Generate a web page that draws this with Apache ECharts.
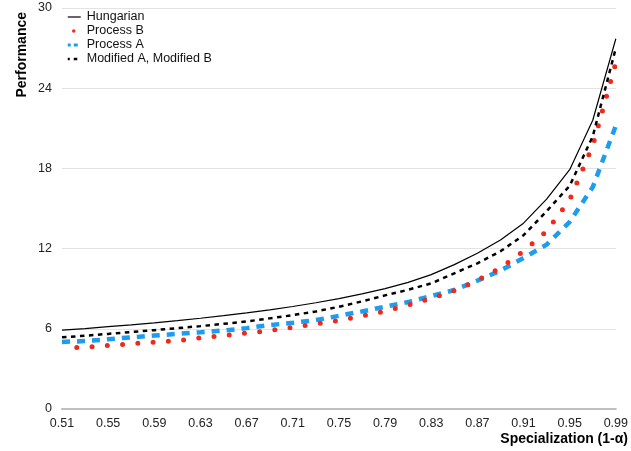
<!DOCTYPE html>
<html>
<head>
<meta charset="utf-8">
<script src="https://cdn.jsdelivr.net/npm/echarts@6/dist/echarts.min.js"></script>
<style>
  html, body { margin: 0; padding: 0; background: #fff; }
  #chart { width: 631px; height: 451px; }
</style>
</head>
<body>
<div id="chart"></div>
<script>
// x categories: specialization (1-α), step 0.02
const specialization = ['0.51', '0.53', '0.55', '0.57', '0.59', '0.61', '0.63', '0.65', '0.67', '0.69',
  '0.71', '0.73', '0.75', '0.77', '0.79', '0.81', '0.83', '0.85', '0.87', '0.89',
  '0.91', '0.93', '0.95', '0.97', '0.99']

const hungarian = [5.90, 6.02, 6.16, 6.30, 6.45, 6.61, 6.79, 6.98, 7.19, 7.42,
  7.67, 7.95, 8.26, 8.61, 9.01, 9.47, 10.05, 10.8, 11.65, 12.65,
  13.9, 15.7, 17.9, 21.6, 27.7]

const processB = [4.55, 4.63, 4.75, 4.88, 5.00, 5.10, 5.32, 5.49, 5.68, 5.87,
  6.10, 6.37, 6.63, 6.95, 7.32, 7.77, 8.28, 8.85, 9.62, 10.55,
  11.8, 13.3, 15.65, 19.7, 25.9]

const processA = [5.02, 5.08, 5.22, 5.36, 5.49, 5.62, 5.74, 5.87, 6.05, 6.28,
  6.45, 6.65, 6.97, 7.30, 7.65, 8.00, 8.45, 8.90, 9.60, 10.35,
  11.3, 12.3, 14.0, 16.6, 21.2]

const modifiedAB = [5.36, 5.48, 5.62, 5.76, 5.90, 6.05, 6.20, 6.37, 6.55, 6.78,
  7.02, 7.30, 7.65, 8.05, 8.50, 8.92, 9.40, 10.15, 10.9, 11.8,
  13.0, 14.8, 16.7, 20.4, 27.0]

const yTicks = { min: 0, max: 30, step: 6 }

const font = '"Liberation Sans", Arial, Helvetica, sans-serif'

const chart = echarts.init(document.getElementById('chart'))

const option = {
  animation: false,
  textStyle: { fontFamily: font },
  grid: { left: 62, right: 11, top: 8, bottom: 42, containLabel: false },
  legend: {
    orient: 'vertical',
    left: 66,
    top: 10,
    padding: 0,
    itemWidth: 13,
    itemHeight: 8,
    itemGap: 0,
    itemStyle: { opacity: 0 },
    textStyle: { fontSize: 12.5, color: '#111', fontFamily: font, lineHeight: 14, padding: [0, 0, 0, 1] },
    data: [
      { name: 'Hungarian', lineStyle: { width: 1.2 } },
      { name: 'Process B', lineStyle: { width: 3.5, dashOffset: -6 } },
      { name: 'Process A', lineStyle: { width: 3, type: [4, 3] } },
      { name: 'Modified A, Modified B', lineStyle: { width: 2.5, type: [3.5, 4] } }
    ]
  },
  xAxis: {
    type: 'category',
    data: specialization,
    boundaryGap: false,
    axisLine: { lineStyle: { color: '#bfbfbf', width: 2 } },
    axisTick: { show: false },
    axisLabel: { interval: 1, color: '#222', fontSize: 12.5, margin: 8, fontFamily: font },
    splitLine: { show: false }
  },
  yAxis: {
    type: 'value',
    min: yTicks.min,
    max: yTicks.max,
    interval: yTicks.step,
    axisLine: { show: false },
    axisTick: { show: false },
    axisLabel: { color: '#222', fontSize: 12.5, margin: 10, fontFamily: font },
    splitLine: { lineStyle: { color: '#e3e3e3', width: 1 } }
  },
  graphic: [
    {
      type: 'text',
      x: 22,
      y: 12,
      rotation: Math.PI / 2,
      style: {
        text: 'Performance',
        font: 'bold 14px ' + font,
        fill: '#000',
        align: 'right',
        verticalAlign: 'middle'
      }
    },
    {
      type: 'text',
      right: 3,
      top: 432,
      style: {
        text: 'Specialization (1-α)',
        font: 'bold 14px ' + font,
        fill: '#000'
      }
    }
  ],
  series: [
    {
      name: 'Hungarian',
      type: 'line',
      data: hungarian,
      showSymbol: false,
      symbol: 'none',
      z: 4,
      lineStyle: { color: '#000', width: 1.2 },
      itemStyle: { color: '#000' }
    },
    {
      name: 'Process B',
      type: 'line',
      data: processB,
      showSymbol: false,
      symbol: 'none',
      z: 3,
      lineStyle: { color: '#ee2a1c', width: 5, type: [0, 15.3], cap: 'round', dashOffset: 0.5 },
      itemStyle: { color: '#ee2a1c' }
    },
    {
      name: 'Process A',
      type: 'line',
      data: processA,
      showSymbol: false,
      symbol: 'none',
      z: 2,
      lineStyle: { color: '#1d9cf0', width: 4.5, type: [8, 7] },
      itemStyle: { color: '#1d9cf0' }
    },
    {
      name: 'Modified A, Modified B',
      type: 'line',
      data: modifiedAB,
      showSymbol: false,
      symbol: 'none',
      z: 4,
      lineStyle: { color: '#000', width: 2.5, type: [4.5, 4.5] },
      itemStyle: { color: '#000' }
    }
  ]
}

chart.setOption(option)
</script>
</body>
</html>
